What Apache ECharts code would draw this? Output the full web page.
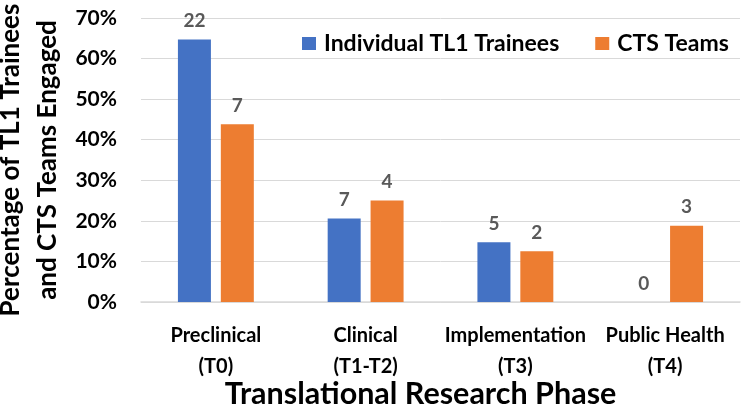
<!DOCTYPE html>
<html>
<head>
<meta charset="utf-8">
<script src="https://cdn.jsdelivr.net/npm/echarts@6/dist/echarts.min.js"></script>
<style>html,body{margin:0;padding:0;background:#fff}#c{width:750px;height:409px}</style>
</head>
<body>
<div id="c"></div>
<script>
const categories = ['Preclinical\n(T0)', 'Clinical\n(T1-T2)', 'Implementation\n(T3)', 'Public Health\n(T4)'];
const traineePct = [64.7, 20.6, 14.7, 0];
const teamPct = [43.8, 25.0, 12.5, 18.8];
const traineeCount = [22, 7, 5, 0];
const teamCount = [7, 4, 2, 3];
const seriesNames = ['Individual TL1 Trainees', 'CTS Teams'];
const yTicks = { min: 0, max: 70, interval: 10 };

const FONT = 'Lato';
const chart = echarts.init(document.getElementById('c'), null, { renderer: 'canvas' });
const labelStyle = (counts) => ({
  show: true,
  position: 'top',
  distance: 9,
  color: '#595959',
  fontFamily: FONT,
  fontWeight: 'bold',
  fontSize: 19,
  formatter: p => String(counts[p.dataIndex])
});
chart.setOption({
  animation: false,
  textStyle: { fontFamily: FONT },
  grid: { left: 141, right: 10, top: 18, bottom: 107, containLabel: false, outerBoundsMode: 'none' },
  legend: {
    left: 297, top: 26,
    itemWidth: 14, itemHeight: 13, itemGap: 36,
    icon: 'rect',
    textStyle: { fontFamily: FONT, fontWeight: 'bold', fontSize: 23, lineHeight: 25, color: '#000', padding: [0, 0, 0, 3] },
    data: seriesNames
  },
  xAxis: {
    type: 'category',
    data: categories,
    axisLine: { lineStyle: { color: '#d9d9d9', width: 1.5 } },
    axisTick: { show: false },
    axisLabel: { color: '#000', fontFamily: FONT, fontWeight: 'bold', fontSize: 20, lineHeight: 31, margin: 18, interval: 0 },
    name: 'Translational Research Phase',
    nameLocation: 'middle',
    nameMoveOverlap: false,
    nameGap: 76,
    nameTextStyle: { color: '#000', fontFamily: FONT, fontWeight: 'bold', fontSize: 30.5, lineHeight: 32, padding: [0, 40, 0, 0] }
  },
  yAxis: {
    type: 'value',
    min: yTicks.min, max: yTicks.max, interval: yTicks.interval,
    axisLine: { show: false },
    axisTick: { show: false },
    splitLine: { lineStyle: { color: '#d9d9d9', width: 1 } },
    axisLabel: { color: '#000', fontFamily: FONT, fontWeight: 'bold', fontSize: 21, margin: 24, formatter: '{value}%' },
    name: 'Percentage of TL1 Trainees\nand CTS Teams Engaged',
    nameLocation: 'middle',
    nameMoveOverlap: false,
    nameRotate: 90,
    nameGap: 75,
    nameTextStyle: { color: '#000', fontFamily: FONT, fontWeight: 'bold', fontSize: 26, lineHeight: 37 }
  },
  series: [
    { name: seriesNames[0], type: 'bar', data: traineePct, barWidth: 33, barGap: '30%',
      itemStyle: { color: '#4472c4' }, label: labelStyle(traineeCount) },
    { name: seriesNames[1], type: 'bar', data: teamPct, barWidth: 33, barGap: '30%',
      itemStyle: { color: '#ed7d31' }, label: labelStyle(teamCount) }
  ]
});
</script>
</body>
</html>
